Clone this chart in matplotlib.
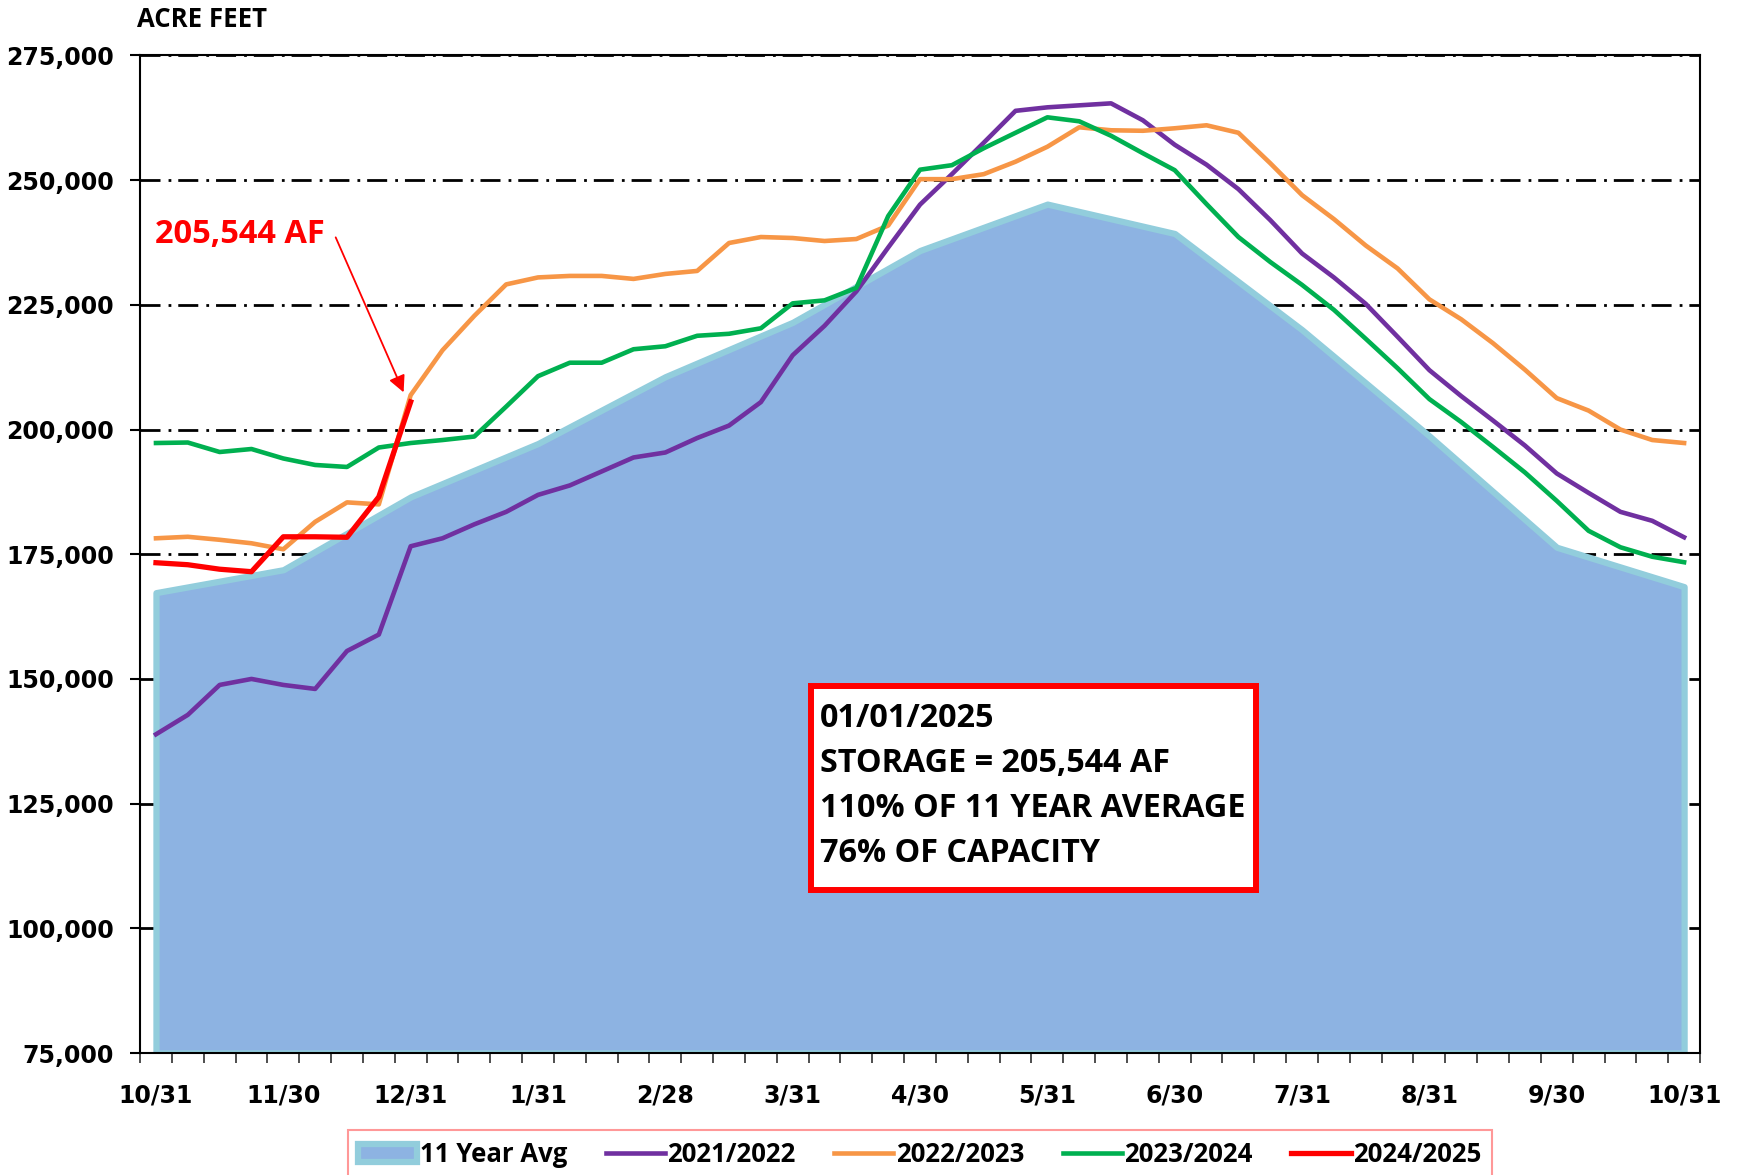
import matplotlib
matplotlib.use("Agg")
import matplotlib.pyplot as plt
from matplotlib.patches import Rectangle
from matplotlib.ticker import FuncFormatter
import numpy as np

# weekly points from 10/31 to 10/31, labels every 4th point
monthLabels = ["10/31", "11/30", "12/31", "1/31", "2/28", "3/31", "4/30",
               "5/31", "6/30", "7/31", "8/31", "9/30", "10/31"]

# 11 year average (monthly)
avg11 = [167300, 171900, 186500, 197200, 210600, 221500, 235900,
         245200, 239300, 220000, 198700, 176400, 168500]

wy2122 = [138900, 142800, 148800, 150000, 148800, 148000, 155600, 158900,
          176600, 178200, 181000, 183500, 186900, 188800, 191600, 194400,
          195400, 198300, 200800, 205500, 214900, 220800, 227700, 236500,
          245100, 251200, 257500, 263900, 264600, 265000, 265400, 262000,
          257100, 253100, 248200, 242000, 235300, 230500, 225200, 218600,
          211900, 206700, 201800, 196800, 191200, 187300, 183500, 181700,
          178400]

wy2223 = [178200, 178500, 177900, 177200, 176000, 181500, 185400, 185000,
          206900, 215900, 222800, 229100, 230500, 230800, 230800, 230200,
          231200, 231800, 237400, 238600, 238400, 237800, 238200, 240900,
          250200, 250200, 251200, 253700, 256700, 260600, 260000, 259900,
          260400, 261000, 259500, 253400, 247000, 242200, 236900, 232300,
          226100, 222100, 217300, 212000, 206300, 203800, 200000, 197900,
          197300]

wy2324 = [197300, 197400, 195500, 196100, 194200, 192900, 192500, 196400,
          197300, 197900, 198600, 204600, 210700, 213400, 213400, 216100,
          216700, 218800, 219200, 220300, 225300, 225900, 228400, 242800,
          252100, 253000, 256400, 259500, 262600, 261800, 258900, 255400,
          252000, 245200, 238600, 233600, 229000, 224000, 218200, 212300,
          206100, 201500, 196500, 191400, 185700, 179700, 176400, 174500,
          173400]

wy2425 = [173300, 172900, 172000, 171500, 178500, 178500, 178400, 186500,
          205544]

seriesNames = ["11 Year Avg", "2021/2022", "2022/2023", "2023/2024", "2024/2025"]

txtFont = "Open Sans"

fig = plt.figure(figsize=(17.42, 11.75), dpi=100)
ax = fig.add_axes([0.0804, 0.1038, 0.8955, 0.849])

xWeek = np.arange(len(wy2122))
xMonth = np.arange(0, len(wy2122), 4)

ax.fill_between(xMonth, avg11, 75000, facecolor="#8DB3E2", edgecolor="#92CDDC",
                linewidth=4.5, zorder=2, label=seriesNames[0])
ax.plot(xWeek, wy2122, color="#7030A0", lw=3.3, zorder=3, label=seriesNames[1])
ax.plot(xWeek, wy2223, color="#F79646", lw=3.3, zorder=4, label=seriesNames[2])
ax.plot(xWeek, wy2324, color="#00B050", lw=3.3, zorder=5, label=seriesNames[3])
ax.plot(np.arange(len(wy2425)), wy2425, color="#FF0000", lw=3.8, zorder=6,
        label=seriesNames[4])

ax.set_xlim(-0.5, len(wy2122) - 0.5)
ax.set_ylim(75000, 275000)
ax.set_yticks(np.arange(75000, 275001, 25000))
ax.yaxis.set_major_formatter(FuncFormatter(lambda v, p: f"{int(v):,}"))
ax.set_axisbelow(True)
ax.yaxis.grid(True, color="black", linewidth=2, linestyle=(0, (7.2, 2.9, 1, 2.5)))

ax.set_xticks(xMonth)
ax.set_xticklabels(monthLabels)
ax.set_xticks(np.arange(-0.5, len(wy2122), 1), minor=True)
ax.tick_params(axis="x", which="major", length=0, pad=22)
ax.tick_params(axis="x", which="minor", direction="inout", length=14, width=1.3,
               color="#404040")
ax.tick_params(axis="y", which="major", direction="out", length=7, width=1.5, pad=12)
for lab in ax.get_xticklabels() + ax.get_yticklabels():
    lab.set_fontsize(17)
    lab.set_fontweight("bold")
    lab.set_family("DejaVu Sans")

for s in ax.spines.values():
    s.set_linewidth(1.5)
    s.set_color("black")

fig.text(0.0786, 0.983, "ACRE FEET", family=txtFont, fontweight="bold",
         fontsize=18.5, va="center", ha="left")

# current storage callout
fig.text(0.089, 0.8002, "205,544 AF", family=txtFont, fontweight="bold",
         fontsize=23.5, color="red", va="center", ha="left")
ax.annotate("", xy=(0.2317, 0.6661), xytext=(0.1927, 0.798),
            xycoords="figure fraction", textcoords="figure fraction",
            arrowprops=dict(arrowstyle="-|>", color="red", lw=1.3,
                            mutation_scale=25, shrinkA=0, shrinkB=0),
            zorder=7)

box = Rectangle((0.4301, 0.1635), 0.2853, 0.2046, transform=ax.transAxes,
                facecolor="white", edgecolor="red", linewidth=4.3, zorder=8)
ax.add_patch(box)
boxLines = ["01/01/2025", "STORAGE = 205,544 AF", "110% OF 11 YEAR AVERAGE",
            "76% OF CAPACITY"]
for i, line in enumerate(boxLines):
    fig.text(0.4707, 0.3815 - i * 0.0383, line, family=txtFont, fontweight="bold",
             fontsize=23.3, va="baseline", ha="left", zorder=9)

leg = fig.legend(loc="upper center", bbox_to_anchor=(0.528, 0.038), ncol=5,
                 prop={"family": txtFont, "weight": "bold", "size": 18.5},
                 frameon=True, fancybox=False, borderaxespad=0,
                 handlelength=2.3, handletextpad=0.1, columnspacing=1.5)
leg.get_frame().set_edgecolor("#FF7F7F")
leg.get_frame().set_linewidth(1.5)

fig.savefig("out.png", dpi=100)
